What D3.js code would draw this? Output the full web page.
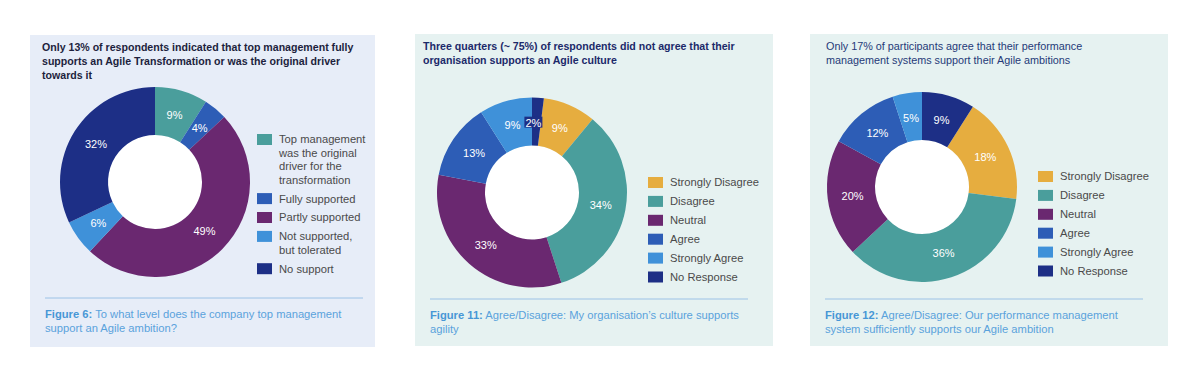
<!DOCTYPE html>
<html><head><meta charset="utf-8">
<script src="https://cdn.jsdelivr.net/npm/d3@7"></script>
<style>
html,body{margin:0;padding:0;background:#fff;}
svg{display:block;font-family:"Liberation Sans",Arial,Helvetica,sans-serif;}
</style></head>
<body>
<svg id="chart" width="1200" height="382"></svg>
<script>
// ---- data ----
const fig6Categories = [
  ["Top management", "was the original", "driver for the", "transformation"],
  ["Fully supported"],
  ["Partly supported"],
  ["Not supported,", "but tolerated"],
  ["No support"]
];
const fig6Values = [9, 4, 49, 6, 32];

const agreeCategories = [["Strongly Disagree"], ["Disagree"], ["Neutral"], ["Agree"], ["Strongly Agree"], ["No Response"]];
const fig11Values = [9, 34, 33, 13, 9, 2];
const fig12Values = [18, 36, 20, 12, 5, 9];

const fig6Title = ["Only 13% of respondents indicated that top management fully",
                   "supports an Agile Transformation or was the original driver",
                   "towards it"];
const fig11Title = ["Three quarters (~ 75%) of respondents did not agree that their",
                    "organisation supports an Agile culture"];
const fig12Title = ["Only 17% of participants agree that their performance",
                    "management systems support their Agile ambitions"];

const fig6Caption = ["Figure 6:", " To what level does the company top management", "support an Agile ambition?"];
const fig11Caption = ["Figure 11:", " Agree/Disagree: My organisation\u2019s culture supports", "agility"];
const fig12Caption = ["Figure 12:", " Agree/Disagree: Our performance management", "system sufficiently supports our Agile ambition"];

// ---- styles ----
const C = {teal:"#4a9e9c", blue:"#2d5db6", purple:"#6a2870", light:"#3f91d9", navy:"#1d2f86", yellow:"#e6ad3f"};
const fig6Colors = [C.teal, C.blue, C.purple, C.light, C.navy];
const agreeColors = [C.yellow, C.teal, C.purple, C.blue, C.light, C.navy];

const panels = [
  {x:30, y:35, w:345, h:312, bg:"#e7edf8", cats:fig6Categories, vals:fig6Values, colors:fig6Colors, start:0,
   cx:155, cy:182, title:fig6Title, titleColor:"#1d1f3d", titleWeight:"bold", titleX:42, titleY:47,
   legX:257, legY:134, caption:fig6Caption, capX:45, lineY:298, lineX1:45, lineX2:363},
  {x:415, y:34, w:358, h:312, bg:"#e6f2f1", cats:agreeCategories, vals:fig11Values, colors:agreeColors, start:"last",
   cx:532, cy:192.5, title:fig11Title, titleColor:"#1c2a6a", titleWeight:"bold", titleX:423, titleY:46,
   legX:648, legY:177, caption:fig11Caption, capX:430, lineY:299, lineX1:430, lineX2:748},
  {x:810, y:34, w:358, h:312, bg:"#e6f2f1", cats:agreeCategories, vals:fig12Values, colors:agreeColors, start:"last",
   cx:922, cy:187, title:fig12Title, titleColor:"#253a78", titleWeight:"normal", titleX:826, titleY:46,
   legX:1038, legY:171, caption:fig12Caption, capX:825, lineY:299, lineX1:825, lineX2:1143}
];

const outerR = 95, innerR = 47, labelR = 70, lineH = 13.4, itemGap = 5.5;
const svg = d3.select("#chart");

panels.forEach(p => {
  const g = svg.append("g");
  g.append("rect").attr("x", p.x).attr("y", p.y).attr("width", p.w).attr("height", p.h).attr("fill", p.bg);

  // title
  const t = g.append("text").attr("fill", p.titleColor).attr("font-weight", p.titleWeight)
    .attr("font-size", p.titleWeight === "bold" ? 10.6 : 10.8);
  p.title.forEach((line, i) => {
    t.append("tspan").attr("x", p.titleX).attr("y", p.titleY + i * 14 + 4).text(line);
  });

  // donut: the last category ("No Response"/"No support") is placed first at 12 o'clock when start === "last"
  const total = d3.sum(p.vals);
  const offset = p.start === "last" ? p.vals[p.vals.length - 1] / total * 2 * Math.PI : 0;
  const pie = d3.pie().sort(null).value(d => d).startAngle(offset).endAngle(offset + 2 * Math.PI);
  const arcs = pie(p.vals);
  const arc = d3.arc().innerRadius(innerR).outerRadius(outerR);
  const labelArc = d3.arc().innerRadius(labelR).outerRadius(labelR);
  const dg = g.append("g").attr("transform", `translate(${p.cx},${p.cy})`);
  dg.append("circle").attr("r", innerR).attr("fill", "#fff");
  dg.selectAll("path").data(arcs).join("path")
    .attr("d", arc).attr("fill", (d, i) => p.colors[i]);
  arcs.forEach((d, i) => {
    const [lx, ly] = labelArc.centroid(d);
    const small = d.value < 3;
    const txt = d.value + "%";
    const x = small ? lx - 3 : lx;
    if (small) {
      dg.append("rect").attr("x", x - 9).attr("y", ly - 6).attr("width", 18).attr("height", 11).attr("fill", C.navy);
    }
    dg.append("text").attr("x", x).attr("y", ly).attr("dy", "0.35em")
      .attr("text-anchor", "middle").attr("fill", "#fff").attr("font-size", 11).text(txt);
  });

  // legend
  let y = p.legY;
  p.cats.forEach((lines, i) => {
    g.append("rect").attr("x", p.legX).attr("y", y).attr("width", 15).attr("height", 11).attr("fill", p.colors[i]);
    const lt = g.append("text").attr("fill", "#4a4a4a").attr("font-size", 11.2);
    lines.forEach((ln, j) => {
      lt.append("tspan").attr("x", p.legX + 22).attr("y", y + 5.5 + j * lineH).attr("dy", "0.35em").text(ln);
    });
    y += lines.length * lineH + itemGap;
  });

  // separator
  g.append("line").attr("x1", p.lineX1).attr("x2", p.lineX2).attr("y1", p.lineY).attr("y2", p.lineY)
    .attr("stroke", "#9cc2e6").attr("stroke-width", 1);

  // caption
  const ct = g.append("text").attr("font-size", 11.2).attr("fill", "#5aa2dc");
  const l1 = ct.append("tspan").attr("x", p.capX).attr("y", p.lineY + 20);
  l1.append("tspan").attr("font-weight", "bold").attr("fill", "#4797d6").text(p.caption[0]);
  l1.append("tspan").text(p.caption[1]);
  ct.append("tspan").attr("x", p.capX).attr("y", p.lineY + 33.5).text(p.caption[2]);
});
</script>
</body></html>
